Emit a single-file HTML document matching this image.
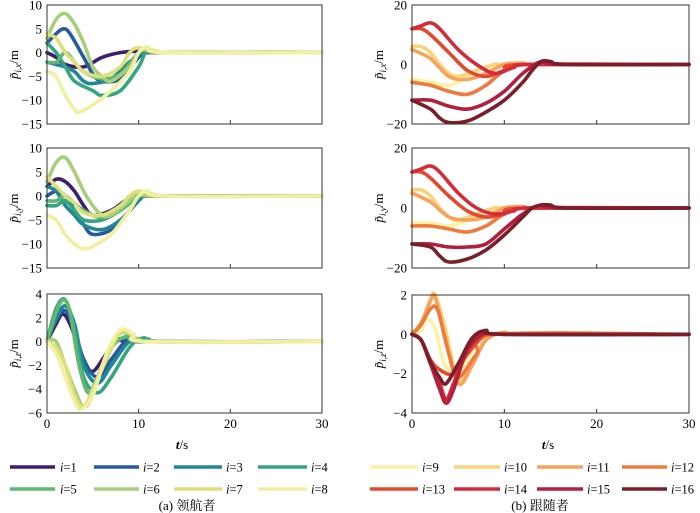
<!DOCTYPE html>
<html><head><meta charset="utf-8">
<style>
html,body{margin:0;padding:0;background:#fff;}
svg{display:block;font-family:"Liberation Serif","Noto Serif CJK SC",serif;}
</style></head>
<body>
<svg id="s" width="700" height="513" viewBox="0 0 700 513" xmlns="http://www.w3.org/2000/svg">
<text x="182" y="449" font-size="13" text-anchor="middle"><tspan font-style="italic" font-weight="bold">t</tspan>/s</text>
<text x="548" y="449" font-size="13" text-anchor="middle"><tspan font-style="italic" font-weight="bold">t</tspan>/s</text>
<text x="187" y="510" font-size="13" text-anchor="middle">(a) 领航者</text>
<text x="540" y="510" font-size="13" text-anchor="middle">(b) 跟随者</text>
</svg>
<script>
const S=document.getElementById('s'),NS='http://www.w3.org/2000/svg';
function el(t,a,txt){const e=document.createElementNS(NS,t);for(const k in a)e.setAttribute(k,a[k]);if(txt!==undefined)e.textContent=txt;S.appendChild(e);return e;}
const L=['#3e1f6e','#2a5a9e','#1f8796','#35a57f','#5db870','#a7cf79','#dde07a','#f2f0a0'];
const R=['#fbf2a3','#fcd27b','#f8a35c','#ef7a3e','#e6482e','#d52a3a','#b21f3c','#7a1e2a'];
function panel(x0,x1,y0,y1,ymax,ymin,yt,lab,cols,data){
  const X=t=>x0+t*(x1-x0)/30,Y=v=>y0+(ymax-v)*(y1-y0)/(ymax-ymin);
  data.forEach((pts,i)=>{
    pts=pts.concat([[30,0]]);
    const P=pts.map(p=>[X(p[0]),Y(p[1])]);
    let d='M'+P[0][0].toFixed(1)+','+P[0][1].toFixed(1);
    for(let k=0;k<P.length-1;k++){
      const p0=P[k-1]||P[k],p1=P[k],p2=P[k+1],p3=P[k+2]||P[k+1];
      const c1=[p1[0]+(p2[0]-p0[0])/6,p1[1]+(p2[1]-p0[1])/6];
      const c2=[p2[0]-(p3[0]-p1[0])/6,p2[1]-(p3[1]-p1[1])/6];
      if(c2[0]>p2[0])c2[0]=p2[0];if(c1[0]<p1[0])c1[0]=p1[0];
      d+=' C'+c1.map(v=>v.toFixed(1))+' '+c2.map(v=>v.toFixed(1))+' '+p2.map(v=>v.toFixed(1));
    }
    el('path',{d:d,fill:'none',stroke:cols[i],'stroke-width':3.6,'stroke-linejoin':'round','stroke-linecap':'round'});
  });
  el('rect',{x:x0,y:y0,width:x1-x0,height:y1-y0,fill:'none',stroke:'#333','stroke-width':1});
  [10,20].forEach(t=>{el('line',{x1:X(t),x2:X(t),y1:y1,y2:y1-4,stroke:'#333'});});
  yt.forEach(v=>{el('text',{x:x0-5,y:Y(v)+4.5,'font-size':13,'text-anchor':'end'},(v<0?'\u2212'+(-v):''+v));});
  const t=el('text',{transform:`translate(${x0-29},${(y0+y1)/2}) rotate(-90)`,'font-size':13,'text-anchor':'middle'});
  t.innerHTML='<tspan font-style="italic">p&#771;</tspan><tspan font-size="9" dy="3" font-style="italic">i</tspan><tspan font-size="9">,</tspan><tspan font-size="9" font-style="italic">'+lab+'</tspan><tspan dy="-3">/m</tspan>';
}
const lx=[[[0,0],[1,-1],[2,-2.5],[4,-3],[6,-1],[8,0],[10,0.3],[12,0]],
[[0,2],[1,4],[1.8,5],[2.5,4],[4,-1],[5,-4.5],[6,-6],[8,-5.5],[10,-1],[11,0.5],[13,0]],
[[0,-2],[1,-2.5],[2,-3],[3,-4],[4,-6],[5,-6.5],[7,-5.5],[9,-2],[11,0.5],[13,0]],
[[0,2],[1,0],[2,-3],[3,-6],[5,-8],[6,-9],[8,-8],[10,-3],[11,0.5],[13,0]],
[[0,-2],[1,-2],[2,0],[3,-2],[4,-4],[6,-5.5],[8,-4.5],[10,0],[11,0.5],[13,0]],
[[0,3],[1,7],[2,8.2],[3,6],[4,2],[5,-3],[6,-5],[7,-6],[9,-3],[10,0],[11,0.7],[13,0]],
[[0,4],[1,3],[2,0],[3,-2],[4,-4],[6,-5],[8,-3],[9,0],[10,1],[12,0.3],[14,0]],
[[0,-4],[1,-5],[2,-9],[3,-12],[3.5,-12.5],[5,-11],[7,-8],[9,-4],[10,0],[11,1.2],[13,0]]];
const ly=[[[0,2],[1,3.5],[2,3],[3,1],[4,-2],[5,-4],[7,-3],[9,-0.5],[11,0]],
[[0,0],[1,1],[2,0],[3,-3],[4,-6],[5,-8],[7,-7],[9,-3],[10,0],[11,0.5],[13,0]],
[[0,2],[1,1],[2,-2],[3,-4],[4,-6],[6,-7],[8,-5],[10,-1],[11,0.5],[13,0]],
[[0,-2],[1,-2],[2,-1],[3,-3],[4,-5],[6,-5],[8,-3],[10,0],[11,1],[13,0]],
[[0,-1],[1,-1],[2,0],[3,-1.5],[4,-3],[6,-4.5],[8,-3],[10,0],[11,0.8],[13,0]],
[[0,3],[1,7],[2,8],[3,5],[4,1],[5,-2],[6,-4],[7,-4],[9,-1],[10,0.8],[12,0]],
[[0,4],[1,2],[2,0],[3,-1.5],[4,-3.5],[6,-4],[8,-2],[9,0],[10,1],[12,0.2],[14,0]],
[[0,-4],[1,-5],[2,-8],[3,-10],[4,-11],[5,-10.5],[7,-8],[9,-3],[10,0],[11,1],[13,0]]];
const lz=[[[0,0],[1,1.5],[1.7,2.3],[2.5,1.5],[4,-1.5],[5,-2.5],[6.5,-1],[8,0.2],[10,0]],
[[0,0],[1,1.8],[2,2.6],[3,1],[4,-1.5],[5.5,-3],[7,-1.5],[9,0.3],[11,0]],
[[0,0],[1,2],[2,3],[3,1.5],[4,-2],[5.5,-3.5],[7,-2],[9,0],[11,0.2],[13,0]],
[[0,0],[1,2.8],[2,3.5],[3,1],[4,-3],[5.5,-4.3],[7,-3],[9,-0.5],[10.5,0.3],[13,0]],
[[0,0],[1,2.5],[1.8,3.5],[2.5,2.5],[3.5,-2],[4.5,-4.3],[5.5,-3],[7,-0.5],[9,0.5],[11,0]],
[[0,0],[1,0],[2,-2],[3,-4],[4,-5.5],[5,-4.5],[6,-2],[8,0.7],[10,0.2],[12,0]],
[[0,0],[1,-0.5],[2,-2],[3,-4.5],[4,-5.5],[5,-4],[6.5,-1.5],[8,0.8],[9.5,0.5],[11,0]],
[[0,0],[1,-1],[2,-3],[3,-5],[3.7,-5.7],[5,-4.5],[6.5,-1],[8,1],[9.5,0.6],[11,0]]];
const rx=[[[0,-5],[2,-6],[4,-7],[6,-4],[8,-1],[10,0],[12,0]],
[[0,6],[1,6],[2,4],[3,0],[4,-3],[5,-4],[7,-2],[9,0],[11,0]],
[[0,5],[2,2],[4,-4],[6,-5],[8,-3],[10,0],[12,0.5],[14,0]],
[[0,-6],[2,-7],[4,-9],[6,-10],[8,-7],[10,-2],[12,0],[14,0]],
[[0,12],[1,12],[2,10],[4,4],[6,-2],[8,-4],[10,-2],[12,0]],
[[0,12],[1,13],[2,14],[3,12],[5,5],[7,0],[9,-3],[11,-1],[13,0]],
[[0,-12],[2,-12],[4,-14],[6,-15],[8,-13],[10,-9],[12,-3],[14,1],[16,0]],
[[0,-12],[2,-15],[3,-18],[4,-19.5],[6,-19],[8,-16],[10,-12],[12,-6],[13,-2],[14,1],[15,1],[17,0]]];
const ry=[[[0,-5],[2,-5],[4,-6],[6,-4],[8,-1],[10,0],[12,0]],
[[0,6],[1,6],[2,4],[3,0],[4,-3],[5,-4],[7,-2],[9,0],[11,0]],
[[0,5],[2,2],[4,-3],[6,-4],[8,-3],[10,0],[12,0.5],[14,0]],
[[0,-6],[2,-6],[4,-7],[6,-8],[8,-6],[10,-2],[12,0],[14,0]],
[[0,12],[1,12],[2,10],[4,4],[6,-1],[8,-3],[10,-2],[12,0]],
[[0,12],[1,13],[2,14],[3,12],[5,5],[7,0],[9,-2],[11,-1],[13,0]],
[[0,-12],[2,-12],[4,-13],[6,-13],[8,-12],[10,-7],[12,-2],[14,1],[16,0]],
[[0,-12],[2,-13],[3,-16],[4,-18],[6,-17],[8,-14],[10,-9],[12,-3],[13,0],[14,1],[15,1],[17,0]]];
const rz=[[[0,0],[1,0.2],[1.5,0.8],[2.5,0.3],[3.5,-1.5],[5,-2],[7,-0.5],[9,0]],
[[0,0],[1,0.5],[2,1.8],[2.5,2],[3.5,0.5],[5,-2.3],[6.5,-1.5],[8,-0.2],[10,0.1],[12,0]],
[[0,0],[1,0.6],[2,1.7],[2.5,1.9],[3.5,0],[5,-2.5],[6.5,-1.6],[8,-0.3],[10,0.1],[12,0]],
[[0,0],[1,0.5],[2,1.3],[2.8,1.2],[4,-1],[5,-2.2],[7,-1],[9,0]],
[[0,0],[1,-0.3],[2,-1.3],[3,-1.8],[4.5,-2],[6,-1],[8,0],[10,0]],
[[0,0],[1,-0.3],[2,-1.5],[3,-2.5],[3.7,-3.3],[4.5,-2.5],[6,-0.8],[8,0.1],[10,0]],
[[0,0],[1,-0.3],[2,-1.5],[3,-2.8],[3.7,-3.5],[4.5,-2.8],[6,-0.8],[8,0.1],[10,0]],
[[0,0],[1,-0.3],[2,-1.4],[3,-2.2],[3.7,-2.5],[5,-1.5],[6.5,-0.2],[8,0.2],[10,0]]];
panel(47,322,5,124,10,-15,[10,5,0,-5,-10,-15],'x',L,lx);
panel(47,322,148,268,10,-15,[10,5,0,-5,-10,-15],'y',L,ly);
panel(47,322,294,413,4,-6,[4,2,0,-2,-4,-6],'z',L,lz);
panel(412,689,5,124,20,-20,[20,0,-20],'x',R,rx);
panel(412,689,148,268,20,-20,[20,0,-20],'y',R,ry);
panel(412,689,295,413,2,-4,[2,0,-2,-4],'z',R,rz);
[47,412].forEach(x0=>{[0,10,20,30].forEach(t=>el('text',{x:x0+t*(x0==47?275:277)/30,y:428,'font-size':13,'text-anchor':'middle'},''+t));});
const lxs=[[10,55,60],[94,139,143],[174,222,226],[258,307,311]],rxs=[[370,418,422],[454,500,504],[537,583,587],[622,667,671]];
for(let r=0;r<2;r++)for(let c=0;c<4;c++){
  const n=r*4+c,yy=r?489:467;
  [[lxs,L,n+1],[rxs,R,n+9]].forEach(([xs,cols,num])=>{
    const p=xs[c];el('line',{x1:p[0],x2:p[1],y1:yy,y2:yy,stroke:cols[n],'stroke-width':3.6});
    const t=el('text',{x:p[2],y:yy+4.5,'font-size':12.5});t.innerHTML='<tspan font-style="italic">i</tspan>=' +num;
  });
}
</script>
</body></html>
